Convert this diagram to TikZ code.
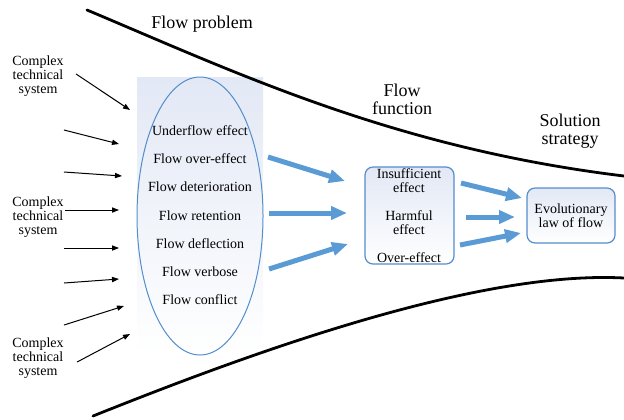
\documentclass[tikz,border=0pt]{standalone}
\usepackage{fontspec}
\setmainfont{Liberation Serif}
\usetikzlibrary{arrows.meta, shapes.geometric}
\definecolor{flowblue}{RGB}{91,155,213}
\definecolor{edgeblue}{RGB}{84,141,204}
\definecolor{shadetop}{RGB}{226,232,245}

\begin{document}
\begin{tikzpicture}[x=0.5pt, y=-0.5pt,
    title/.style={font=\rmfamily\fontsize{9}{9}\selectfont, align=center, inner sep=0pt},
    item/.style={font=\rmfamily\fontsize{7}{7}\selectfont, align=center, inner sep=0pt},
    sysarrow/.style={-{Triangle[length=3.5pt,width=2.6pt]}, line width=0.5pt},
    flowarrow/.style={-{Triangle[length=8pt,width=6.5pt]}, line width=2.5pt, flowblue},
    border/.style={line width=1.4pt, line cap=round},
    box/.style={draw=edgeblue, line width=0.6pt, rounded corners=4pt, top color=shadetop, bottom color=white}]
            \useasboundingbox (0,0) rectangle (624,419);
            \fill[top color=shadetop, middle color=shadetop!35, bottom color=white] (137,77) rectangle (263,354);
            \draw[border] (87,10) .. controls (237,73) and (394,148) .. (624,176);
            \draw[border] (93,416) .. controls (243,356) and (474,270) .. (624,278);
            \node (tprob) at (202,24) [title] {Flow problem};
            \node (tfunc) at (402,99) [title] {Flow\\function};
            \node (tsol) at (570,131) [title] {Solution\\strategy};
            \node (sys1) at (38,76) [item] {Complex\\technical\\system};
            \node (sys2) at (38,217) [item] {Complex\\technical\\system};
            \node (sys3) at (38,358) [item] {Complex\\technical\\system};
            \node (prob) at (200,216) [draw=edgeblue, ellipse, line width=0.5pt, minimum width=63pt, minimum height=139pt, inner sep=0pt] {};
            \node (under) at (200,131) [item] {Underflow effect};
            \node (over) at (200,159) [item] {Flow over-effect};
            \node (deter) at (200,187) [item] {Flow deterioration};
            \node (reten) at (200,216) [item] {Flow retention};
            \node (defle) at (200,244) [item] {Flow deflection};
            \node (verb) at (200,272) [item] {Flow verbose};
            \node (confl) at (200,300) [item] {Flow conflict};
            \node (func) at (409.5,215.5) [box, minimum width=44.5pt, minimum height=48.5pt] {};
            \node (insuf) at (409,181) [item] {Insufficient\\effect};
            \node (harm) at (409,223) [item] {Harmful\\effect};
            \node (oeff) at (409,258) [item] {Over-effect};
            \node (law) at (571,215.5) [box, minimum width=44pt, minimum height=27.5pt, item] {Evolutionary\\law of flow};
            \coordinate (s2) at (64,130);
            \coordinate (s3) at (64,172);
            \coordinate (s5) at (64,248);
            \coordinate (s6) at (64,283);
            \coordinate (s7) at (64,325);
            \coordinate (e1) at (130,110);
            \coordinate (e2) at (119,144);
            \coordinate (e3) at (122,176);
            \coordinate (e4) at (119,210);
            \coordinate (e5) at (119,248);
            \coordinate (e6) at (119,279);
            \coordinate (e7) at (124,306);
            \coordinate (e8) at (130,334);
            \draw[sysarrow] ([xshift=6pt,yshift=1pt]sys1.east) -- (e1);
            \draw[sysarrow] (s2) -- (e2);
            \draw[sysarrow] (s3) -- (e3);
            \draw[sysarrow] ([xshift=0.5pt,yshift=3.5pt]sys2.east) -- (e4);
            \draw[sysarrow] (s5) -- (e5);
            \draw[sysarrow] (s6) -- (e6);
            \draw[sysarrow] (s7) -- (e7);
            \draw[sysarrow] ([xshift=6.5pt,yshift=-2pt]sys3.east) -- (e8);
            \coordinate (p1) at (268,157);
            \coordinate (p2) at (269,213);
            \coordinate (p3) at (269,269);
            \coordinate (f1) at (345,181);
            \coordinate (f2) at (347,213);
            \coordinate (f3) at (348,244);
            \coordinate (q1) at (461,183);
            \coordinate (q2) at (466,217);
            \coordinate (q3) at (460,245);
            \coordinate (l1) at (522,198);
            \coordinate (l2) at (515,217);
            \coordinate (l3) at (521,233);
            \draw[flowarrow] (p1) -- (f1);
            \draw[flowarrow] (p2) -- (f2);
            \draw[flowarrow] (p3) -- (f3);
            \draw[flowarrow] (q1) -- (l1);
            \draw[flowarrow] (q2) -- (l2);
            \draw[flowarrow] (q3) -- (l3);
\end{tikzpicture}
\end{document}
